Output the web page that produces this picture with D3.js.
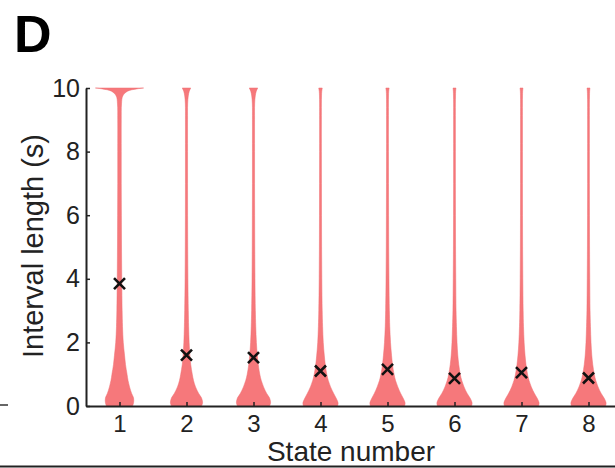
<!DOCTYPE html>
<html>
<head>
<meta charset="utf-8">
<script src="https://cdn.jsdelivr.net/npm/d3@7/dist/d3.min.js"></script>
<style>
  html, body { margin: 0; padding: 0; background: #fff; }
  svg { display: block; font-family: "Liberation Sans", Arial, Helvetica, sans-serif; }
</style>
</head>
<body>
<svg id="chart" width="615" height="468"></svg>
<script>
// States on the x axis
const states = [1, 2, 3, 4, 5, 6, 7, 8];
// Mean interval length per state (s)
const means = [3.85, 1.6, 1.52, 1.1, 1.15, 0.87, 1.05, 0.88];
// Interval lengths (s) at which the density of each violin is given
const levels = [0, 0.1, 0.25, 0.4, 0.6, 0.8, 1.0, 1.3, 1.6, 2.0, 2.5, 3, 4, 5, 6, 7, 8, 9, 9.5, 9.75, 9.9, 9.97, 10];
// Relative density (violin half-width) per state at each level
const density1 = [0.52, 0.56, 0.56, 0.48, 0.40, 0.34, 0.30, 0.24, 0.20, 0.15, 0.12, 0.105, 0.09, 0.08, 0.075, 0.07, 0.07, 0.07, 0.08, 0.13, 0.32, 0.68, 0.96];
const density2 = [0.60, 0.64, 0.60, 0.48, 0.36, 0.28, 0.23, 0.17, 0.135, 0.105, 0.085, 0.072, 0.056, 0.048, 0.044, 0.042, 0.042, 0.042, 0.046, 0.07, 0.11, 0.15, 0.17];
const density3 = [0.64, 0.68, 0.64, 0.52, 0.40, 0.31, 0.25, 0.19, 0.15, 0.115, 0.09, 0.074, 0.058, 0.05, 0.046, 0.042, 0.042, 0.042, 0.046, 0.07, 0.11, 0.15, 0.17];
const density4 = [0.68, 0.70, 0.62, 0.52, 0.40, 0.31, 0.25, 0.19, 0.15, 0.11, 0.084, 0.068, 0.052, 0.044, 0.04, 0.038, 0.036, 0.036, 0.036, 0.04, 0.05, 0.064, 0.07];
const density5 = [0.68, 0.70, 0.62, 0.52, 0.41, 0.32, 0.26, 0.20, 0.16, 0.12, 0.09, 0.074, 0.058, 0.048, 0.044, 0.04, 0.038, 0.038, 0.038, 0.04, 0.048, 0.06, 0.066];
const density6 = [0.68, 0.70, 0.62, 0.50, 0.38, 0.29, 0.23, 0.17, 0.13, 0.10, 0.078, 0.062, 0.05, 0.042, 0.038, 0.036, 0.036, 0.036, 0.036, 0.04, 0.046, 0.054, 0.06];
const density7 = [0.68, 0.70, 0.62, 0.51, 0.39, 0.30, 0.24, 0.18, 0.14, 0.105, 0.08, 0.066, 0.052, 0.044, 0.04, 0.038, 0.038, 0.038, 0.038, 0.04, 0.046, 0.054, 0.06];
const density8 = [0.68, 0.70, 0.62, 0.50, 0.38, 0.29, 0.23, 0.17, 0.13, 0.10, 0.078, 0.062, 0.05, 0.042, 0.038, 0.036, 0.036, 0.036, 0.036, 0.04, 0.046, 0.054, 0.06];
const densities = [density1, density2, density3, density4, density5, density6, density7, density8];
// Axis tick labels
const yTicks = [0, 2, 4, 6, 8, 10];

const svg = d3.select("#chart");

const x = d3.scaleLinear().domain([0.5, 8.5]).range([86, 622]);
const y = d3.scaleLinear().domain([0, 10]).range([406, 88]);
// Half-width of a violin for a relative density of 1
const halfW = d3.scaleLinear().domain([0, 1]).range([0, x(1.375) - x(1)]);

// Violins
const area = d3.area()
  .y(d => y(d.v))
  .x0(d => d.cx - halfW(d.w))
  .x1(d => d.cx + halfW(d.w))
  .curve(d3.curveCatmullRom.alpha(0.5));

const violins = svg.append("g");
states.forEach((s, i) => {
  const pts = levels.map((v, j) => ({ v: v, w: densities[i][j], cx: x(s) }));
  violins.append("path")
    .attr("d", area(pts))
    .attr("fill", "#f6787b")
    .attr("stroke", "#ee6d70")
    .attr("stroke-width", 0.5);
});

// Axes
const yAxis = d3.axisLeft(y).tickValues(yTicks).tickSizeInner(-4).tickSizeOuter(0).tickPadding(6);
const gy = svg.append("g").attr("transform", `translate(${x(0.5)},0)`).call(yAxis);
gy.select(".domain").attr("stroke", "#222").attr("stroke-width", 2);
gy.selectAll(".tick line").attr("stroke", "#222").attr("stroke-width", 1.5);
gy.selectAll(".tick text").attr("font-size", 25).attr("fill", "#222").attr("font-family", "Liberation Sans, Arial, sans-serif");

const xAxis = d3.axisBottom(x).tickValues(states).tickSizeInner(-4).tickSizeOuter(0).tickPadding(9);
const gx = svg.append("g").attr("transform", `translate(0,${y(0)})`).call(xAxis);
gx.select(".domain").attr("stroke", "#222").attr("stroke-width", 2);
gx.selectAll(".tick line").attr("stroke", "#222").attr("stroke-width", 1.5);
gx.selectAll(".tick text").attr("font-size", 24).attr("fill", "#222").attr("font-family", "Liberation Sans, Arial, sans-serif");

// Mean markers
const m = 5.5;
const marks = svg.append("g").attr("stroke", "#111").attr("stroke-width", 2.6).attr("stroke-linecap", "butt");
states.forEach((s, i) => {
  const cx = x(s), cy = y(means[i]);
  marks.append("path").attr("d", `M${cx - m},${cy - m}L${cx + m},${cy + m}M${cx - m},${cy + m}L${cx + m},${cy - m}`);
});

// Axis titles
svg.append("text")
  .attr("x", 351).attr("y", 461)
  .attr("text-anchor", "middle")
  .attr("font-size", 28).attr("fill", "#222")
  .text("State number");

svg.append("text")
  .attr("transform", `translate(43,246) rotate(-90)`)
  .attr("text-anchor", "middle")
  .attr("font-size", 29).attr("fill", "#222")
  .text("Interval length (s)");

// Panel letter
svg.append("text")
  .attr("x", 14).attr("y", 52)
  .attr("font-size", 52).attr("font-weight", "bold").attr("fill", "#000")
  .text("D");

// Frame marks at the panel edges
svg.append("line").attr("x1", 0).attr("x2", 8).attr("y1", 405).attr("y2", 405)
  .attr("stroke", "#333").attr("stroke-width", 1.5);
svg.append("line").attr("x1", 0).attr("x2", 615).attr("y1", 466.5).attr("y2", 466.5)
  .attr("stroke", "#222").attr("stroke-width", 2);
</script>
</body>
</html>
